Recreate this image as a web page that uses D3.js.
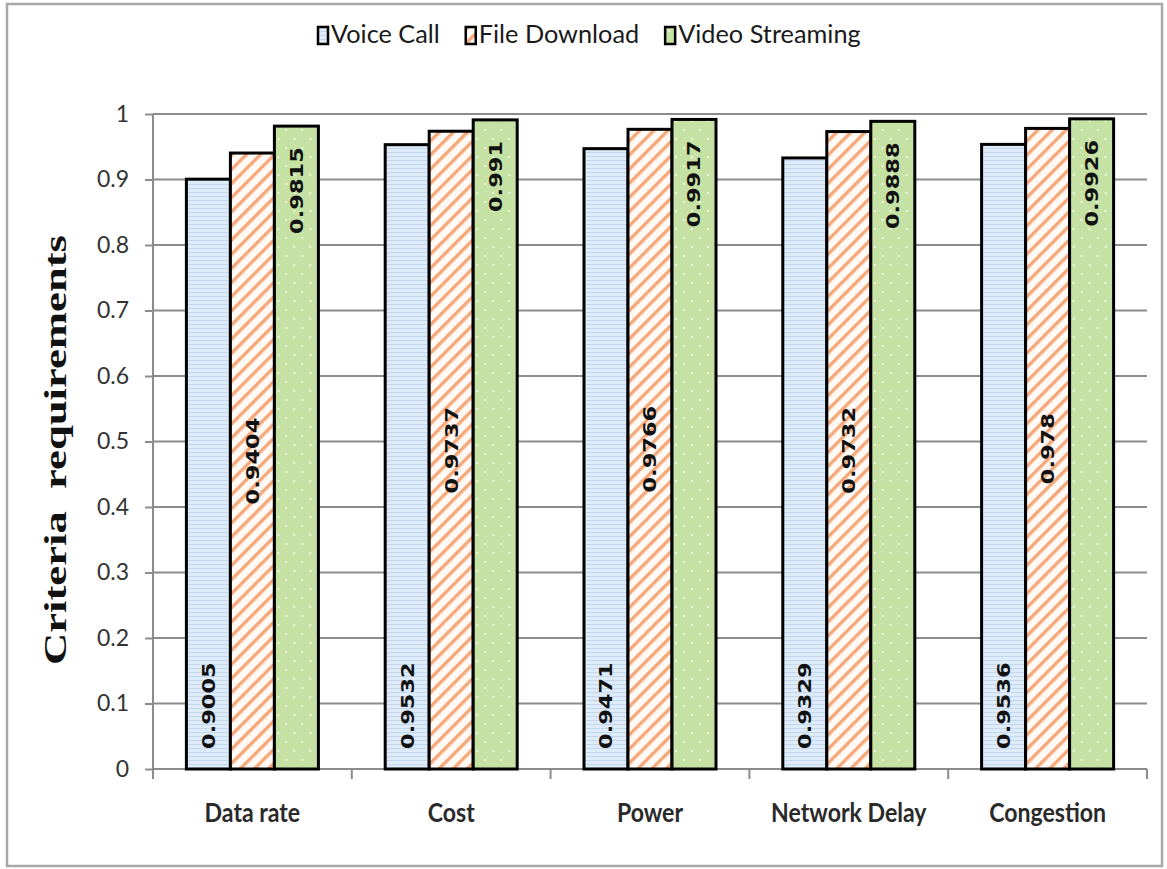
<!DOCTYPE html>
<html>
<head>
<meta charset="utf-8">
<script src="https://cdn.jsdelivr.net/npm/d3@7"></script>
<style>
  body { margin: 0; background: #fff; }
  text { font-family: Lato, "Open Sans", sans-serif; }
</style>
</head>
<body>
<svg id="chart" width="1167" height="869"></svg>
<script>
let categories = ["Data rate", "Cost", "Power", "Network Delay", "Congestion"]
let seriesNames = ["Voice Call", "File Download", "Video Streaming"]
let voiceCall = [0.9005, 0.9532, 0.9471, 0.9329, 0.9536]
let fileDownload = [0.9404, 0.9737, 0.9766, 0.9732, 0.978]
let videoStreaming = [0.9815, 0.991, 0.9917, 0.9888, 0.9926]
let yTicks = [0, 0.1, 0.2, 0.3, 0.4, 0.5, 0.6, 0.7, 0.8, 0.9, 1]

let width = 1167,
  height = 869,
  plot = {left: 153, right: 1147, top: 114, bottom: 769};

let svg = d3.select("#chart")
let fills = ["url(#voice)", "url(#file)", "url(#video)"]

function make_patterns() {
  let defs = svg.append("defs")

  // light blue with thin horizontal lines
  let p1 = defs.append("pattern")
    .attr("id", "voice")
    .attr("patternUnits", "userSpaceOnUse")
    .attr("width", 4).attr("height", 4)
  p1.append("rect").attr("width", 4).attr("height", 4).attr("fill", "#deebf8")
  p1.append("rect").attr("width", 4).attr("height", 1).attr("fill", "#c4d7ee")

  // orange diagonal stripes on white
  let p2 = defs.append("pattern")
    .attr("id", "file")
    .attr("patternUnits", "userSpaceOnUse")
    .attr("width", 10).attr("height", 10)
    .attr("patternTransform", "rotate(45)")
  p2.append("rect").attr("width", 10).attr("height", 10).attr("fill", "#fffaf6")
  p2.append("rect").attr("width", 3.4).attr("height", 10).attr("fill", "#f5a97a")

  // green with small light dots
  let p3 = defs.append("pattern")
    .attr("id", "video")
    .attr("patternUnits", "userSpaceOnUse")
    .attr("width", 16).attr("height", 18)
  p3.append("rect").attr("width", 16).attr("height", 18).attr("fill", "#c5e1a3")
  p3.append("circle").attr("cx", 4).attr("cy", 4).attr("r", 1.2).attr("fill", "#eaf5dc")
  p3.append("circle").attr("cx", 12).attr("cy", 13).attr("r", 1.2).attr("fill", "#eaf5dc")
}

function make_scales() {
  let x0 = d3.scaleBand()
    .domain(categories)
    .range([plot.left, plot.right])
    .paddingInner(0.336)
    .paddingOuter(0.168)
  let x1 = d3.scaleBand()
    .domain(seriesNames)
    .range([0, x0.bandwidth()])
  let y = d3.scaleLinear()
    .domain([0, 1])
    .range([plot.bottom, plot.top])
  return {x0, x1, y}
}

function visualize() {
  make_patterns()
  let s = make_scales()

  // outer frame
  svg.append("rect")
    .attr("x", 7).attr("y", 4)
    .attr("width", 1155).attr("height", 862)
    .attr("fill", "none")
    .attr("stroke", "#a8a8a8")
    .attr("stroke-width", 2.5)

  // gridlines
  svg.append("g")
    .selectAll("line")
    .data(yTicks.filter(d => d > 0))
    .enter().append("line")
    .attr("x1", plot.left).attr("x2", plot.right)
    .attr("y1", d => s.y(d)).attr("y2", d => s.y(d))
    .attr("stroke", "#8c8c8c")
    .attr("stroke-width", 2)

  // y axis
  let yAxis = d3.axisLeft(s.y)
    .tickValues(yTicks)
    .tickFormat(d3.format("~g"))
    .tickSize(8)
    .tickPadding(16)
  let gy = svg.append("g")
    .attr("transform", `translate(${plot.left},0)`)
    .call(yAxis)
  gy.select(".domain").remove()
  gy.selectAll(".tick line").attr("stroke", "#8c8c8c").attr("stroke-width", 2)
  gy.selectAll(".tick text")
    .attr("fill", "#333")
    .style("font-size", "23px")
    .style("font-family", "Lato, sans-serif")
  gy.append("line")
    .attr("x1", 0).attr("x2", 0)
    .attr("y1", s.y(1)).attr("y2", s.y(0) + 10)
    .attr("stroke", "#8c8c8c").attr("stroke-width", 2)

  // x axis
  let boundaries = d3.range(categories.length + 1).map(i => plot.left + i * s.x0.step())
  let gx = svg.append("g")
  gx.append("line")
    .attr("x1", plot.left).attr("x2", plot.right)
    .attr("y1", plot.bottom).attr("y2", plot.bottom)
    .attr("stroke", "#8c8c8c").attr("stroke-width", 2)
  gx.selectAll("line.tick")
    .data(boundaries)
    .enter().append("line")
    .attr("class", "tick")
    .attr("x1", d => d).attr("x2", d => d)
    .attr("y1", plot.bottom).attr("y2", plot.bottom + 10)
    .attr("stroke", "#8c8c8c").attr("stroke-width", 2)
  gx.selectAll("text")
    .data(categories)
    .enter().append("text")
    .attr("transform", d => `translate(${s.x0(d) + s.x0.bandwidth() / 2},822) scale(1.05,1.2)`)
    .attr("text-anchor", "middle")
    .attr("fill", "#2a2a2a")
    .style("font-size", "22px")
    .style("font-weight", "bold")
    .text(d => d)

  // bars
  let rows = categories.map((c, i) => ({
    cat: c,
    values: [voiceCall[i], fileDownload[i], videoStreaming[i]]
  }))

  let groups = svg.append("g")
    .selectAll("g")
    .data(rows)
    .enter().append("g")
    .attr("transform", d => `translate(${s.x0(d.cat)},0)`)

  let cells = groups.selectAll("g")
    .data(d => d.values.map((v, k) => ({series: seriesNames[k], k: k, value: v})))
    .enter().append("g")

  cells.append("rect")
    .attr("x", d => s.x1(d.series))
    .attr("y", d => s.y(d.value))
    .attr("width", s.x1.bandwidth())
    .attr("height", d => s.y(0) - s.y(d.value))
    .attr("fill", d => fills[d.k])
    .attr("stroke", "#000")
    .attr("stroke-width", 3)

  // value labels: base / centre / inside end
  cells.append("text")
    .attr("transform", d => {
      let cx = s.x1(d.series) + s.x1.bandwidth() / 2
      let yy = d.k == 0 ? s.y(0) - 20
        : d.k == 1 ? (s.y(0) + s.y(d.value)) / 2
        : s.y(d.value) + 21
      return `translate(${cx},${yy}) rotate(-90) scale(1.25,1)`
    })
    .attr("dy", "0.36em")
    .attr("text-anchor", d => ["start", "middle", "end"][d.k])
    .attr("fill", "#111")
    .style("font-family", "'DejaVu Sans', Verdana, sans-serif")
    .style("font-weight", "bold")
    .style("font-size", "18px")
    .text(d => String(d.value))

  // y title
  svg.append("text")
    .attr("transform", "translate(66,450) rotate(-90)")
    .attr("text-anchor", "middle")
    .attr("textLength", 430)
    .attr("lengthAdjust", "spacingAndGlyphs")
    .attr("fill", "#111")
    .style("font-family", "'Liberation Serif', 'Times New Roman', serif")
    .style("font-weight", "bold")
    .style("font-size", "31px")
    .style("white-space", "pre")
    .text("Criteria  requirements")

  // legend
  let lx = 318
  seriesNames.forEach((name, k) => {
    let g = svg.append("g").attr("transform", `translate(${lx},27)`)
    g.append("rect")
      .attr("width", 10).attr("height", 17)
      .attr("fill", fills[k])
      .attr("stroke", "#000").attr("stroke-width", 2.5)
    let t = g.append("text")
      .attr("transform", "translate(13,16) scale(1.1,1.1)")
      .attr("fill", "#1a1a1a")
      .style("font-size", "23px")
      .text(name)
    lx += 13 + 1.1 * t.node().getComputedTextLength() + 26
  })
}

visualize()
</script>
</body>
</html>
